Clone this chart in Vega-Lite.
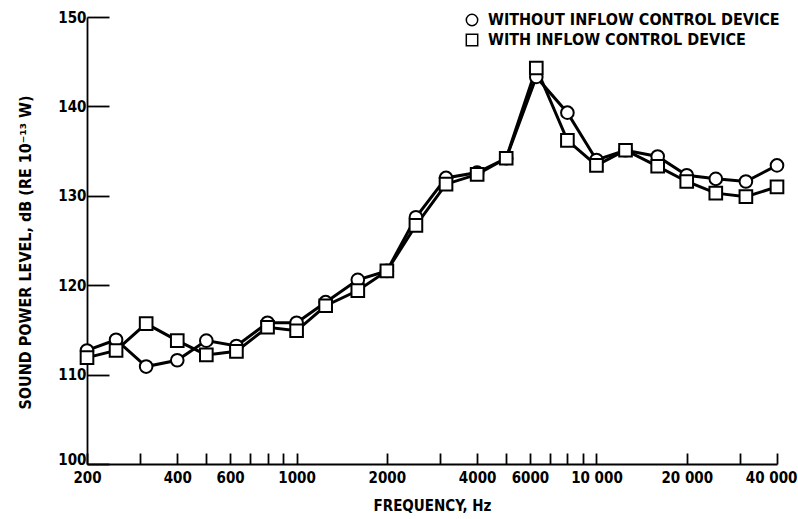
{
  "$schema": "https://vega.github.io/schema/vega-lite/v6.json",
  "width": 690,
  "height": 447,
  "autosize": {"type": "none"},
  "padding": {"left": 87, "top": 17, "right": 21, "bottom": 55},
  "background": "white",
  "config": {
    "view": {"stroke": null},
    "font": "DejaVu Sans Condensed, Roboto, sans-serif",
    "axis": {"domainColor": "black", "domainWidth": 1.8, "tickColor": "black", "tickWidth": 1.8, "labelColor": "black", "titleColor": "black", "grid": false, "labelFont": "DejaVu Sans Condensed, Roboto, sans-serif", "titleFont": "DejaVu Sans Condensed, Roboto, sans-serif", "labelFontWeight": "bold", "titleFontWeight": "bold"}
  },
  "data": {
    "values": [
      {"f": 200, "series": "WITHOUT INFLOW CONTROL DEVICE", "db": 112.7},
      {"f": 250, "series": "WITHOUT INFLOW CONTROL DEVICE", "db": 113.9},
      {"f": 315, "series": "WITHOUT INFLOW CONTROL DEVICE", "db": 110.9},
      {"f": 400, "series": "WITHOUT INFLOW CONTROL DEVICE", "db": 111.6},
      {"f": 500, "series": "WITHOUT INFLOW CONTROL DEVICE", "db": 113.8},
      {"f": 630, "series": "WITHOUT INFLOW CONTROL DEVICE", "db": 113.2},
      {"f": 800, "series": "WITHOUT INFLOW CONTROL DEVICE", "db": 115.8},
      {"f": 1000, "series": "WITHOUT INFLOW CONTROL DEVICE", "db": 115.8},
      {"f": 1250, "series": "WITHOUT INFLOW CONTROL DEVICE", "db": 118.1},
      {"f": 1600, "series": "WITHOUT INFLOW CONTROL DEVICE", "db": 120.6},
      {"f": 2000, "series": "WITHOUT INFLOW CONTROL DEVICE", "db": 121.6},
      {"f": 2500, "series": "WITHOUT INFLOW CONTROL DEVICE", "db": 127.6},
      {"f": 3150, "series": "WITHOUT INFLOW CONTROL DEVICE", "db": 132.0},
      {"f": 4000, "series": "WITHOUT INFLOW CONTROL DEVICE", "db": 132.6},
      {"f": 5000, "series": "WITHOUT INFLOW CONTROL DEVICE", "db": 134.2},
      {"f": 6300, "series": "WITHOUT INFLOW CONTROL DEVICE", "db": 143.3},
      {"f": 8000, "series": "WITHOUT INFLOW CONTROL DEVICE", "db": 139.3},
      {"f": 10000, "series": "WITHOUT INFLOW CONTROL DEVICE", "db": 134.0},
      {"f": 12500, "series": "WITHOUT INFLOW CONTROL DEVICE", "db": 135.1},
      {"f": 16000, "series": "WITHOUT INFLOW CONTROL DEVICE", "db": 134.4},
      {"f": 20000, "series": "WITHOUT INFLOW CONTROL DEVICE", "db": 132.3},
      {"f": 25000, "series": "WITHOUT INFLOW CONTROL DEVICE", "db": 131.9},
      {"f": 31500, "series": "WITHOUT INFLOW CONTROL DEVICE", "db": 131.6},
      {"f": 40000, "series": "WITHOUT INFLOW CONTROL DEVICE", "db": 133.4},
      {"f": 200, "series": "WITH INFLOW CONTROL DEVICE", "db": 111.9},
      {"f": 250, "series": "WITH INFLOW CONTROL DEVICE", "db": 112.7},
      {"f": 315, "series": "WITH INFLOW CONTROL DEVICE", "db": 115.7},
      {"f": 400, "series": "WITH INFLOW CONTROL DEVICE", "db": 113.8},
      {"f": 500, "series": "WITH INFLOW CONTROL DEVICE", "db": 112.2},
      {"f": 630, "series": "WITH INFLOW CONTROL DEVICE", "db": 112.6},
      {"f": 800, "series": "WITH INFLOW CONTROL DEVICE", "db": 115.3},
      {"f": 1000, "series": "WITH INFLOW CONTROL DEVICE", "db": 114.9},
      {"f": 1250, "series": "WITH INFLOW CONTROL DEVICE", "db": 117.7},
      {"f": 1600, "series": "WITH INFLOW CONTROL DEVICE", "db": 119.4},
      {"f": 2000, "series": "WITH INFLOW CONTROL DEVICE", "db": 121.6},
      {"f": 2500, "series": "WITH INFLOW CONTROL DEVICE", "db": 126.7},
      {"f": 3150, "series": "WITH INFLOW CONTROL DEVICE", "db": 131.3},
      {"f": 4000, "series": "WITH INFLOW CONTROL DEVICE", "db": 132.4},
      {"f": 5000, "series": "WITH INFLOW CONTROL DEVICE", "db": 134.2},
      {"f": 6300, "series": "WITH INFLOW CONTROL DEVICE", "db": 144.3},
      {"f": 8000, "series": "WITH INFLOW CONTROL DEVICE", "db": 136.2},
      {"f": 10000, "series": "WITH INFLOW CONTROL DEVICE", "db": 133.4},
      {"f": 12500, "series": "WITH INFLOW CONTROL DEVICE", "db": 135.1},
      {"f": 16000, "series": "WITH INFLOW CONTROL DEVICE", "db": 133.3},
      {"f": 20000, "series": "WITH INFLOW CONTROL DEVICE", "db": 131.6},
      {"f": 25000, "series": "WITH INFLOW CONTROL DEVICE", "db": 130.3},
      {"f": 31500, "series": "WITH INFLOW CONTROL DEVICE", "db": 129.9},
      {"f": 40000, "series": "WITH INFLOW CONTROL DEVICE", "db": 131.0}
    ]
  },
  "encoding": {
    "x": {
      "field": "f",
      "type": "quantitative",
      "scale": {"type": "log", "domain": [200, 40000], "nice": false},
      "axis": {
        "title": "FREQUENCY,  Hz",
        "values": [200, 300, 400, 500, 600, 700, 800, 900, 1000, 2000, 3000, 4000, 5000, 6000, 7000, 8000, 9000, 10000, 20000, 30000, 40000],
        "tickSize": -11,
        "labelPadding": 17,
        "labelFontSize": 15,
        "labelBaseline": "top",
        "labelAlign": {"condition": {"test": "datum.value == 40000", "value": "right"}, "value": "center"},
        "labelOffset": {"condition": {"test": "datum.value == 40000", "value": 20}, "value": 0},
        "labelFlush": false,
        "labelOverlap": false,
        "labelExpr": "indexof([200,400,600,1000,2000,4000,6000,10000,20000,40000], datum.value) < 0 ? '' : (datum.value >= 10000 ? replace(format(datum.value, ','), ',', ' ') : format(datum.value, 'd'))",
        "titleFontSize": 15,
        "titlePadding": 13,
        "encode": {
          "ticks": {
            "update": {
              "y2": [
                {"test": "indexof([1000,10000], datum.value) >= 0", "value": -24},
                {"test": "indexof([200,400,600,2000,4000,6000,20000,40000], datum.value) >= 0", "value": -18},
                {"value": -11}
              ]
            }
          }
        }
      }
    },
    "y": {
      "field": "db",
      "type": "quantitative",
      "scale": {"domain": [100, 150], "nice": false, "zero": false},
      "axis": {
        "title": "SOUND POWER LEVEL,  dB (RE 10⁻¹³ W)",
        "values": [100, 110, 120, 130, 140, 150],
        "tickSize": -22,
        "labelPadding": 23,
        "labelFontSize": 15,
        "labelBaseline": {"condition": {"test": "datum.value == 100", "value": "alphabetic"}, "value": "middle"},
        "titleFontSize": 16,
        "titleAngle": -90,
        "titleX": -62,
        "titleY": 235,
        "titleAlign": "center",
        "titleBaseline": "middle"
      }
    }
  },
  "layer": [
    {
      "mark": {"type": "line", "stroke": "black", "strokeWidth": 3},
      "encoding": {"detail": {"field": "series"}}
    },
    {
      "mark": {"type": "point", "filled": false, "fill": "white", "stroke": "black", "strokeWidth": 2, "size": 160, "opacity": 1, "fillOpacity": 1},
      "encoding": {
        "shape": {
          "field": "series",
          "type": "nominal",
          "scale": {"domain": ["WITHOUT INFLOW CONTROL DEVICE", "WITH INFLOW CONTROL DEVICE"], "range": ["circle", "square"]},
          "legend": {
            "title": null,
            "orient": "none",
            "legendX": 377,
            "legendY": -5,
            "padding": 0,
            "labelFont": "DejaVu Sans Condensed, Roboto, sans-serif",
            "labelFontWeight": "bold",
            "labelFontSize": 16,
            "labelColor": "black",
            "labelLimit": 0,
            "labelOffset": 8,
            "rowPadding": 2,
            "symbolSize": 130,
            "encode": {
              "symbols": {
                "update": {
                  "fill": {"value": "white"},
                  "fillOpacity": {"value": 1},
                  "stroke": {"value": "black"},
                  "strokeWidth": {"value": 1.5},
                  "opacity": {"value": 1}
                }
              }
            }
          }
        }
      }
    }
  ]
}
